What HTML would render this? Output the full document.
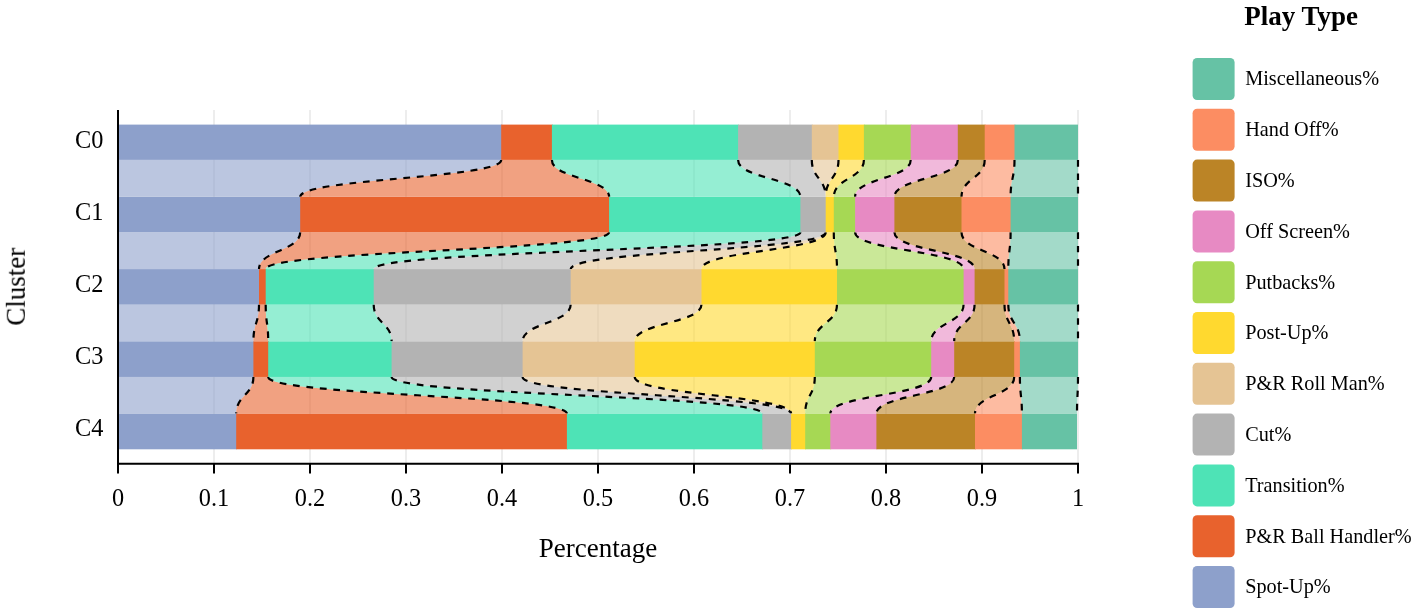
<!DOCTYPE html>
<html><head><meta charset="utf-8"><title>Play Type by Cluster</title><style>html,body{margin:0;padding:0;background:#fff;width:1418px;height:614px;overflow:hidden}svg{display:block}</style></head>
<body>
<svg width="1418" height="614" viewBox="0 0 1418 614">
<rect width="1418" height="614" fill="#fff"/>
<path d="M214.0 110V463.8M310.0 110V463.8M406.0 110V463.8M502.0 110V463.8M598.0 110V463.8M694.0 110V463.8M790.0 110V463.8M886.0 110V463.8M982.0 110V463.8M1078.0 110V463.8" stroke="#e2e2e2" stroke-width="1.2" fill="none"/>
<g fill-opacity="0.6">
<path d="M118 159.9H501.2C501.2 178.38 300.2 178.38 300.2 196.85H118C118 178.38 118 178.38 118 159.9Z" fill="#8da0cb"/>
<path d="M501.2 159.9H551.9C551.9 178.38 609.1 178.38 609.1 196.85H300.2C300.2 178.38 501.2 178.38 501.2 159.9Z" fill="#e8622d"/>
<path d="M551.9 159.9H738.1C738.1 178.38 800.4 178.38 800.4 196.85H609.1C609.1 178.38 551.9 178.38 551.9 159.9Z" fill="#4ee3b6"/>
<path d="M738.1 159.9H811.8C811.8 178.38 825.7 178.38 825.7 196.85H800.4C800.4 178.38 738.1 178.38 738.1 159.9Z" fill="#b3b3b3"/>
<path d="M811.8 159.9H838.5C838.5 178.38 825.7 178.38 825.7 196.85H825.7C825.7 178.38 811.8 178.38 811.8 159.9Z" fill="#e5c494"/>
<path d="M838.5 159.9H863.9C863.9 178.38 833.8 178.38 833.8 196.85H825.7C825.7 178.38 838.5 178.38 838.5 159.9Z" fill="#ffd92f"/>
<path d="M863.9 159.9H910.7C910.7 178.38 855.1 178.38 855.1 196.85H833.8C833.8 178.38 863.9 178.38 863.9 159.9Z" fill="#a6d854"/>
<path d="M910.7 159.9H957.8C957.8 178.38 894.4 178.38 894.4 196.85H855.1C855.1 178.38 910.7 178.38 910.7 159.9Z" fill="#e78ac3"/>
<path d="M957.8 159.9H984.7C984.7 178.38 961.5 178.38 961.5 196.85H894.4C894.4 178.38 957.8 178.38 957.8 159.9Z" fill="#bb8426"/>
<path d="M984.7 159.9H1014.5C1014.5 178.38 1010.6 178.38 1010.6 196.85H961.5C961.5 178.38 984.7 178.38 984.7 159.9Z" fill="#fc8d62"/>
<path d="M1014.5 159.9H1078C1078 178.38 1078 178.38 1078 196.85H1010.6C1010.6 178.38 1014.5 178.38 1014.5 159.9Z" fill="#66c2a5"/>
<path d="M118 232.25H300.2C300.2 250.68 259 250.68 259 269.1H118C118 250.68 118 250.68 118 232.25Z" fill="#8da0cb"/>
<path d="M300.2 232.25H609.1C609.1 250.68 265.7 250.68 265.7 269.1H259C259 250.68 300.2 250.68 300.2 232.25Z" fill="#e8622d"/>
<path d="M609.1 232.25H800.4C800.4 250.68 373.7 250.68 373.7 269.1H265.7C265.7 250.68 609.1 250.68 609.1 232.25Z" fill="#4ee3b6"/>
<path d="M800.4 232.25H825.7C825.7 250.68 570.7 250.68 570.7 269.1H373.7C373.7 250.68 800.4 250.68 800.4 232.25Z" fill="#b3b3b3"/>
<path d="M825.7 232.25H825.7C825.7 250.68 701.5 250.68 701.5 269.1H570.7C570.7 250.68 825.7 250.68 825.7 232.25Z" fill="#e5c494"/>
<path d="M825.7 232.25H833.8C833.8 250.68 837 250.68 837 269.1H701.5C701.5 250.68 825.7 250.68 825.7 232.25Z" fill="#ffd92f"/>
<path d="M833.8 232.25H855.1C855.1 250.68 963.6 250.68 963.6 269.1H837C837 250.68 833.8 250.68 833.8 232.25Z" fill="#a6d854"/>
<path d="M855.1 232.25H894.4C894.4 250.68 974.6 250.68 974.6 269.1H963.6C963.6 250.68 855.1 250.68 855.1 232.25Z" fill="#e78ac3"/>
<path d="M894.4 232.25H961.5C961.5 250.68 1004.5 250.68 1004.5 269.1H974.6C974.6 250.68 894.4 250.68 894.4 232.25Z" fill="#bb8426"/>
<path d="M961.5 232.25H1010.6C1010.6 250.68 1008.3 250.68 1008.3 269.1H1004.5C1004.5 250.68 961.5 250.68 961.5 232.25Z" fill="#fc8d62"/>
<path d="M1010.6 232.25H1078C1078 250.68 1078 250.68 1078 269.1H1008.3C1008.3 250.68 1010.6 250.68 1010.6 232.25Z" fill="#66c2a5"/>
<path d="M118 304.6H259C259 322.98 253.4 322.98 253.4 341.35H118C118 322.98 118 322.98 118 304.6Z" fill="#8da0cb"/>
<path d="M259 304.6H265.7C265.7 322.98 268.2 322.98 268.2 341.35H253.4C253.4 322.98 259 322.98 259 304.6Z" fill="#e8622d"/>
<path d="M265.7 304.6H373.7C373.7 322.98 391.6 322.98 391.6 341.35H268.2C268.2 322.98 265.7 322.98 265.7 304.6Z" fill="#4ee3b6"/>
<path d="M373.7 304.6H570.7C570.7 322.98 522.6 322.98 522.6 341.35H391.6C391.6 322.98 373.7 322.98 373.7 304.6Z" fill="#b3b3b3"/>
<path d="M570.7 304.6H701.5C701.5 322.98 634.7 322.98 634.7 341.35H522.6C522.6 322.98 570.7 322.98 570.7 304.6Z" fill="#e5c494"/>
<path d="M701.5 304.6H837C837 322.98 814.8 322.98 814.8 341.35H634.7C634.7 322.98 701.5 322.98 701.5 304.6Z" fill="#ffd92f"/>
<path d="M837 304.6H963.6C963.6 322.98 931.2 322.98 931.2 341.35H814.8C814.8 322.98 837 322.98 837 304.6Z" fill="#a6d854"/>
<path d="M963.6 304.6H974.6C974.6 322.98 954.2 322.98 954.2 341.35H931.2C931.2 322.98 963.6 322.98 963.6 304.6Z" fill="#e78ac3"/>
<path d="M974.6 304.6H1004.5C1004.5 322.98 1014.2 322.98 1014.2 341.35H954.2C954.2 322.98 974.6 322.98 974.6 304.6Z" fill="#bb8426"/>
<path d="M1004.5 304.6H1008.3C1008.3 322.98 1019.9 322.98 1019.9 341.35H1014.2C1014.2 322.98 1004.5 322.98 1004.5 304.6Z" fill="#fc8d62"/>
<path d="M1008.3 304.6H1078C1078 322.98 1078 322.98 1078 341.35H1019.9C1019.9 322.98 1008.3 322.98 1008.3 304.6Z" fill="#66c2a5"/>
<path d="M118 376.95H253.4C253.4 395.27 236.2 395.27 236.2 413.6H118C118 395.27 118 395.27 118 376.95Z" fill="#8da0cb"/>
<path d="M253.4 376.95H268.2C268.2 395.27 566.9 395.27 566.9 413.6H236.2C236.2 395.27 253.4 395.27 253.4 376.95Z" fill="#e8622d"/>
<path d="M268.2 376.95H391.6C391.6 395.27 762.3 395.27 762.3 413.6H566.9C566.9 395.27 268.2 395.27 268.2 376.95Z" fill="#4ee3b6"/>
<path d="M391.6 376.95H522.6C522.6 395.27 791.1 395.27 791.1 413.6H762.3C762.3 395.27 391.6 395.27 391.6 376.95Z" fill="#b3b3b3"/>
<path d="M522.6 376.95H634.7C634.7 395.27 791.1 395.27 791.1 413.6H791.1C791.1 395.27 522.6 395.27 522.6 376.95Z" fill="#e5c494"/>
<path d="M634.7 376.95H814.8C814.8 395.27 805.2 395.27 805.2 413.6H791.1C791.1 395.27 634.7 395.27 634.7 376.95Z" fill="#ffd92f"/>
<path d="M814.8 376.95H931.2C931.2 395.27 830.3 395.27 830.3 413.6H805.2C805.2 395.27 814.8 395.27 814.8 376.95Z" fill="#a6d854"/>
<path d="M931.2 376.95H954.2C954.2 395.27 876.4 395.27 876.4 413.6H830.3C830.3 395.27 931.2 395.27 931.2 376.95Z" fill="#e78ac3"/>
<path d="M954.2 376.95H1014.2C1014.2 395.27 975 395.27 975 413.6H876.4C876.4 395.27 954.2 395.27 954.2 376.95Z" fill="#bb8426"/>
<path d="M1014.2 376.95H1019.9C1019.9 395.27 1021.9 395.27 1021.9 413.6H975C975 395.27 1014.2 395.27 1014.2 376.95Z" fill="#fc8d62"/>
<path d="M1019.9 376.95H1078C1078 395.27 1077 395.27 1077 413.6H1021.9C1021.9 395.27 1019.9 395.27 1019.9 376.95Z" fill="#66c2a5"/>
</g>
<path d="M501.2 159.9C501.2 178.38 300.2 178.38 300.2 196.85M551.9 159.9C551.9 178.38 609.1 178.38 609.1 196.85M738.1 159.9C738.1 178.38 800.4 178.38 800.4 196.85M811.8 159.9C811.8 178.38 825.7 178.38 825.7 196.85M838.5 159.9C838.5 178.38 825.7 178.38 825.7 196.85M863.9 159.9C863.9 178.38 833.8 178.38 833.8 196.85M910.7 159.9C910.7 178.38 855.1 178.38 855.1 196.85M957.8 159.9C957.8 178.38 894.4 178.38 894.4 196.85M984.7 159.9C984.7 178.38 961.5 178.38 961.5 196.85M1014.5 159.9C1014.5 178.38 1010.6 178.38 1010.6 196.85M1078 159.9C1078 178.38 1078 178.38 1078 196.85M300.2 232.25C300.2 250.68 259 250.68 259 269.1M609.1 232.25C609.1 250.68 265.7 250.68 265.7 269.1M800.4 232.25C800.4 250.68 373.7 250.68 373.7 269.1M825.7 232.25C825.7 250.68 570.7 250.68 570.7 269.1M825.7 232.25C825.7 250.68 701.5 250.68 701.5 269.1M833.8 232.25C833.8 250.68 837 250.68 837 269.1M855.1 232.25C855.1 250.68 963.6 250.68 963.6 269.1M894.4 232.25C894.4 250.68 974.6 250.68 974.6 269.1M961.5 232.25C961.5 250.68 1004.5 250.68 1004.5 269.1M1010.6 232.25C1010.6 250.68 1008.3 250.68 1008.3 269.1M1078 232.25C1078 250.68 1078 250.68 1078 269.1M259 304.6C259 322.98 253.4 322.98 253.4 341.35M265.7 304.6C265.7 322.98 268.2 322.98 268.2 341.35M373.7 304.6C373.7 322.98 391.6 322.98 391.6 341.35M570.7 304.6C570.7 322.98 522.6 322.98 522.6 341.35M701.5 304.6C701.5 322.98 634.7 322.98 634.7 341.35M837 304.6C837 322.98 814.8 322.98 814.8 341.35M963.6 304.6C963.6 322.98 931.2 322.98 931.2 341.35M974.6 304.6C974.6 322.98 954.2 322.98 954.2 341.35M1004.5 304.6C1004.5 322.98 1014.2 322.98 1014.2 341.35M1008.3 304.6C1008.3 322.98 1019.9 322.98 1019.9 341.35M1078 304.6C1078 322.98 1078 322.98 1078 341.35M253.4 376.95C253.4 395.27 236.2 395.27 236.2 413.6M268.2 376.95C268.2 395.27 566.9 395.27 566.9 413.6M391.6 376.95C391.6 395.27 762.3 395.27 762.3 413.6M522.6 376.95C522.6 395.27 791.1 395.27 791.1 413.6M634.7 376.95C634.7 395.27 791.1 395.27 791.1 413.6M814.8 376.95C814.8 395.27 805.2 395.27 805.2 413.6M931.2 376.95C931.2 395.27 830.3 395.27 830.3 413.6M954.2 376.95C954.2 395.27 876.4 395.27 876.4 413.6M1014.2 376.95C1014.2 395.27 975 395.27 975 413.6M1019.9 376.95C1019.9 395.27 1021.9 395.27 1021.9 413.6M1078 376.95C1078 395.27 1077 395.27 1077 413.6" stroke="#000" stroke-width="2.2" stroke-dasharray="6.75 6.75" fill="none"/>
<rect x="118" y="124.6" width="384" height="35.3" fill="#8da0cb"/>
<rect x="501.2" y="124.6" width="51.5" height="35.3" fill="#e8622d"/>
<rect x="551.9" y="124.6" width="187" height="35.3" fill="#4ee3b6"/>
<rect x="738.1" y="124.6" width="74.5" height="35.3" fill="#b3b3b3"/>
<rect x="811.8" y="124.6" width="27.5" height="35.3" fill="#e5c494"/>
<rect x="838.5" y="124.6" width="26.2" height="35.3" fill="#ffd92f"/>
<rect x="863.9" y="124.6" width="47.6" height="35.3" fill="#a6d854"/>
<rect x="910.7" y="124.6" width="47.9" height="35.3" fill="#e78ac3"/>
<rect x="957.8" y="124.6" width="27.7" height="35.3" fill="#bb8426"/>
<rect x="984.7" y="124.6" width="30.6" height="35.3" fill="#fc8d62"/>
<rect x="1014.5" y="124.6" width="63.5" height="35.3" fill="#66c2a5"/>
<rect x="118" y="196.85" width="183" height="35.4" fill="#8da0cb"/>
<rect x="300.2" y="196.85" width="309.7" height="35.4" fill="#e8622d"/>
<rect x="609.1" y="196.85" width="192.1" height="35.4" fill="#4ee3b6"/>
<rect x="800.4" y="196.85" width="26.1" height="35.4" fill="#b3b3b3"/>
<rect x="825.7" y="196.85" width="8.9" height="35.4" fill="#ffd92f"/>
<rect x="833.8" y="196.85" width="22.1" height="35.4" fill="#a6d854"/>
<rect x="855.1" y="196.85" width="40.1" height="35.4" fill="#e78ac3"/>
<rect x="894.4" y="196.85" width="67.9" height="35.4" fill="#bb8426"/>
<rect x="961.5" y="196.85" width="49.9" height="35.4" fill="#fc8d62"/>
<rect x="1010.6" y="196.85" width="67.4" height="35.4" fill="#66c2a5"/>
<rect x="118" y="269.1" width="141.8" height="35.5" fill="#8da0cb"/>
<rect x="259" y="269.1" width="7.5" height="35.5" fill="#e8622d"/>
<rect x="265.7" y="269.1" width="108.8" height="35.5" fill="#4ee3b6"/>
<rect x="373.7" y="269.1" width="197.8" height="35.5" fill="#b3b3b3"/>
<rect x="570.7" y="269.1" width="131.6" height="35.5" fill="#e5c494"/>
<rect x="701.5" y="269.1" width="136.3" height="35.5" fill="#ffd92f"/>
<rect x="837" y="269.1" width="127.4" height="35.5" fill="#a6d854"/>
<rect x="963.6" y="269.1" width="11.8" height="35.5" fill="#e78ac3"/>
<rect x="974.6" y="269.1" width="30.7" height="35.5" fill="#bb8426"/>
<rect x="1004.5" y="269.1" width="4.6" height="35.5" fill="#fc8d62"/>
<rect x="1008.3" y="269.1" width="69.7" height="35.5" fill="#66c2a5"/>
<rect x="118" y="341.35" width="136.2" height="35.6" fill="#8da0cb"/>
<rect x="253.4" y="341.35" width="15.6" height="35.6" fill="#e8622d"/>
<rect x="268.2" y="341.35" width="124.2" height="35.6" fill="#4ee3b6"/>
<rect x="391.6" y="341.35" width="131.8" height="35.6" fill="#b3b3b3"/>
<rect x="522.6" y="341.35" width="112.9" height="35.6" fill="#e5c494"/>
<rect x="634.7" y="341.35" width="180.9" height="35.6" fill="#ffd92f"/>
<rect x="814.8" y="341.35" width="117.2" height="35.6" fill="#a6d854"/>
<rect x="931.2" y="341.35" width="23.8" height="35.6" fill="#e78ac3"/>
<rect x="954.2" y="341.35" width="60.8" height="35.6" fill="#bb8426"/>
<rect x="1014.2" y="341.35" width="6.5" height="35.6" fill="#fc8d62"/>
<rect x="1019.9" y="341.35" width="58.1" height="35.6" fill="#66c2a5"/>
<rect x="118" y="413.6" width="119" height="35.7" fill="#8da0cb"/>
<rect x="236.2" y="413.6" width="331.5" height="35.7" fill="#e8622d"/>
<rect x="566.9" y="413.6" width="196.2" height="35.7" fill="#4ee3b6"/>
<rect x="762.3" y="413.6" width="29.6" height="35.7" fill="#b3b3b3"/>
<rect x="791.1" y="413.6" width="14.9" height="35.7" fill="#ffd92f"/>
<rect x="805.2" y="413.6" width="25.9" height="35.7" fill="#a6d854"/>
<rect x="830.3" y="413.6" width="46.9" height="35.7" fill="#e78ac3"/>
<rect x="876.4" y="413.6" width="99.4" height="35.7" fill="#bb8426"/>
<rect x="975" y="413.6" width="47.7" height="35.7" fill="#fc8d62"/>
<rect x="1021.9" y="413.6" width="55.1" height="35.7" fill="#66c2a5"/>
<path d="M118.0 110V463.8H1079" stroke="#000" stroke-width="2" fill="none"/>
<path d="M118.0 463.8V473.5M214.0 463.8V473.5M310.0 463.8V473.5M406.0 463.8V473.5M502.0 463.8V473.5M598.0 463.8V473.5M694.0 463.8V473.5M790.0 463.8V473.5M886.0 463.8V473.5M982.0 463.8V473.5M1078.0 463.8V473.5" stroke="#000" stroke-width="2" fill="none"/>
<rect x="1192.6" y="58.0" width="42" height="42" rx="4.5" fill="#66c2a5"/>
<rect x="1192.6" y="108.8" width="42" height="42" rx="4.5" fill="#fc8d62"/>
<rect x="1192.6" y="159.6" width="42" height="42" rx="4.5" fill="#bb8426"/>
<rect x="1192.6" y="210.4" width="42" height="42" rx="4.5" fill="#e78ac3"/>
<rect x="1192.6" y="261.2" width="42" height="42" rx="4.5" fill="#a6d854"/>
<rect x="1192.6" y="312.0" width="42" height="42" rx="4.5" fill="#ffd92f"/>
<rect x="1192.6" y="362.8" width="42" height="42" rx="4.5" fill="#e5c494"/>
<rect x="1192.6" y="413.6" width="42" height="42" rx="4.5" fill="#b3b3b3"/>
<rect x="1192.6" y="464.4" width="42" height="42" rx="4.5" fill="#4ee3b6"/>
<rect x="1192.6" y="515.2" width="42" height="42" rx="4.5" fill="#e8622d"/>
<rect x="1192.6" y="566.0" width="42" height="42" rx="4.5" fill="#8da0cb"/>
<g font-family="Liberation Serif" fill="#000" style="filter:grayscale(1)">
<text x="118.0" y="505.5" font-size="24.3" text-anchor="middle">0</text>
<text x="214.0" y="505.5" font-size="24.3" text-anchor="middle">0.1</text>
<text x="310.0" y="505.5" font-size="24.3" text-anchor="middle">0.2</text>
<text x="406.0" y="505.5" font-size="24.3" text-anchor="middle">0.3</text>
<text x="502.0" y="505.5" font-size="24.3" text-anchor="middle">0.4</text>
<text x="598.0" y="505.5" font-size="24.3" text-anchor="middle">0.5</text>
<text x="694.0" y="505.5" font-size="24.3" text-anchor="middle">0.6</text>
<text x="790.0" y="505.5" font-size="24.3" text-anchor="middle">0.7</text>
<text x="886.0" y="505.5" font-size="24.3" text-anchor="middle">0.8</text>
<text x="982.0" y="505.5" font-size="24.3" text-anchor="middle">0.9</text>
<text x="1078.0" y="505.5" font-size="24.3" text-anchor="middle">1</text>
<text x="103.3" y="147.6" font-size="24.3" text-anchor="end">C0</text>
<text x="103.3" y="219.8" font-size="24.3" text-anchor="end">C1</text>
<text x="103.3" y="291.9" font-size="24.3" text-anchor="end">C2</text>
<text x="103.3" y="364.1" font-size="24.3" text-anchor="end">C3</text>
<text x="103.3" y="436.2" font-size="24.3" text-anchor="end">C4</text>
<text x="598" y="556.7" font-size="27" text-anchor="middle">Percentage</text>
<text transform="translate(24.8 286.7) rotate(-90)" font-size="27" text-anchor="middle">Cluster</text>
<text x="1244.3" y="24.5" font-size="27" font-weight="bold">Play Type</text>
<text x="1245.2" y="85.4" font-size="20.25">Miscellaneous%</text>
<text x="1245.2" y="136.2" font-size="20.25">Hand Off%</text>
<text x="1245.2" y="187.0" font-size="20.25">ISO%</text>
<text x="1245.2" y="237.8" font-size="20.25">Off Screen%</text>
<text x="1245.2" y="288.6" font-size="20.25">Putbacks%</text>
<text x="1245.2" y="339.4" font-size="20.25">Post-Up%</text>
<text x="1245.2" y="390.2" font-size="20.25">P&amp;R Roll Man%</text>
<text x="1245.2" y="441.0" font-size="20.25">Cut%</text>
<text x="1245.2" y="491.8" font-size="20.25">Transition%</text>
<text x="1245.2" y="542.6" font-size="20.25">P&amp;R Ball Handler%</text>
<text x="1245.2" y="593.4" font-size="20.25">Spot-Up%</text>
</g>
</svg>
</body></html>
